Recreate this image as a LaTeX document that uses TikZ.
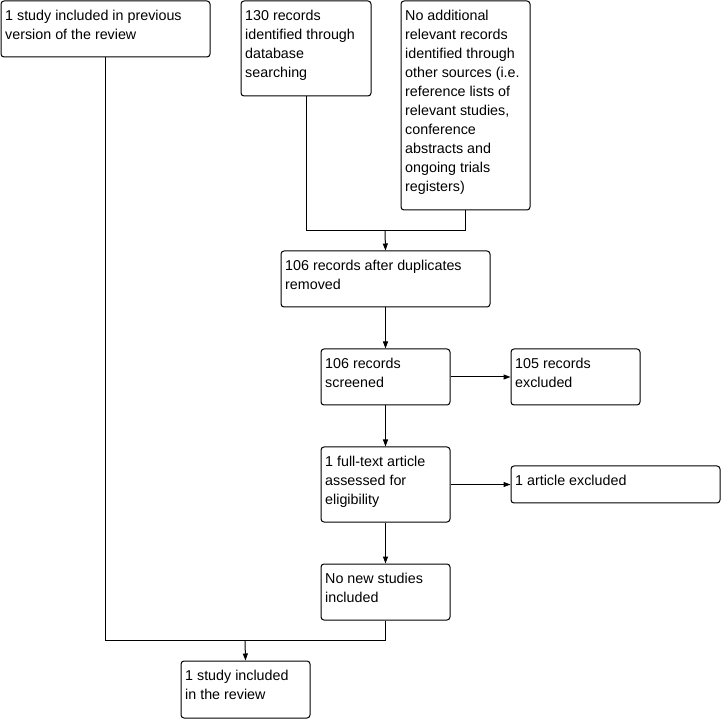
\documentclass[tikz,border=0pt]{standalone}
\usepackage{fontspec}
\setmainfont{Liberation Sans}
\usetikzlibrary{arrows.meta}
\begin{document}
\begin{tikzpicture}[x=1pt,y=-1pt,
  box/.style={draw=black,line width=1pt,rounded corners=3pt,inner sep=0pt,anchor=north west},
  txt/.style={anchor=base west,inner sep=0pt,font=\fontsize{14.3}{19}\selectfont},
  conn/.style={draw=black,line width=1pt},
  arr/.style={conn,-{Triangle[length=7pt,width=5pt]}}]
\useasboundingbox (0,0) rectangle (721,719);
% boxes
\node[box,minimum width=209pt,minimum height=56pt] (b1) at (0.5,0.5) {};
\node[txt] (t1a) at (5,20.5) {1 study included in previous};
\node[txt] (t1b) at (5,39.5) {version of the review};
\node[box,minimum width=130pt,minimum height=95pt] (b2) at (240.5,0.5) {};
\foreach \s [count=\i from 0] in {130 records,identified through,database,searching}
  \node[txt] (t2-\i) at (245,20.5+19*\i) {\s};
\node[box,minimum width=129pt,minimum height=209pt] (b3) at (400.5,0.5) {};
\foreach \s [count=\i from 0] in {No additional,relevant records,identified through,other sources (i.e.,reference lists of,{relevant studies,},conference,abstracts and,ongoing trials,registers)}
  \node[txt] (t3-\i) at (405,20.5+19*\i) {\s};
\node[box,minimum width=209pt,minimum height=56pt] (b4) at (280.5,250.5) {};
\node[txt] (t4a) at (285,270.5) {106 records after duplicates};
\node[txt] (t4b) at (285,289.5) {removed};
\node[box,minimum width=129pt,minimum height=56pt] (b5) at (320.5,348.5) {};
\node[txt] (t5a) at (325,368.5) {106 records};
\node[txt] (t5b) at (325,387.5) {screened};
\node[box,minimum width=129pt,minimum height=56pt] (b6) at (510.5,348.5) {};
\node[txt] (t6a) at (515,368.5) {105 records};
\node[txt] (t6b) at (515,387.5) {excluded};
\node[box,minimum width=129pt,minimum height=75pt] (b7) at (320.5,446.5) {};
\node[txt] (t7a) at (325,466.5) {1 full-text article};
\node[txt] (t7b) at (325,485.5) {assessed for};
\node[txt] (t7c) at (325,504.5) {eligibility};
\node[box,minimum width=209pt,minimum height=37pt] (b8) at (510.5,465.5) {};
\node[txt] (t8) at (515,485.5) {1 article excluded};
\node[box,minimum width=129pt,minimum height=56pt] (b9) at (320.5,563.5) {};
\node[txt] (t9a) at (325,583.5) {No new studies};
\node[txt] (t9b) at (325,602.5) {included};
\node[box,minimum width=129pt,minimum height=57pt] (b10) at (180.5,660.5) {};
\node[txt] (t10a) at (185,680.5) {1 study included};
\node[txt] (t10b) at (185,699.5) {in the review};
% junctions
\coordinate (j1) at (385,230.5);
\coordinate (j2) at (245,640.5);
\draw[conn] (b2.south) |- (j1) -| (b3.south);
\draw[arr] (j1) -- (b4.north);
\draw[arr] (b4.south) -- (b5.north);
\draw[arr] (b5.east) -- (b6.west);
\draw[arr] (b5.south) -- (b7.north);
\draw[arr] (b7.east) -- (b7.east -| b8.west);
\draw[arr] (b7.south) -- (b9.north);
\draw[conn] (b1.south) |- (j2) -| (b9.south);
\draw[arr] (j2) -- (b10.north);
\end{tikzpicture}
\end{document}
